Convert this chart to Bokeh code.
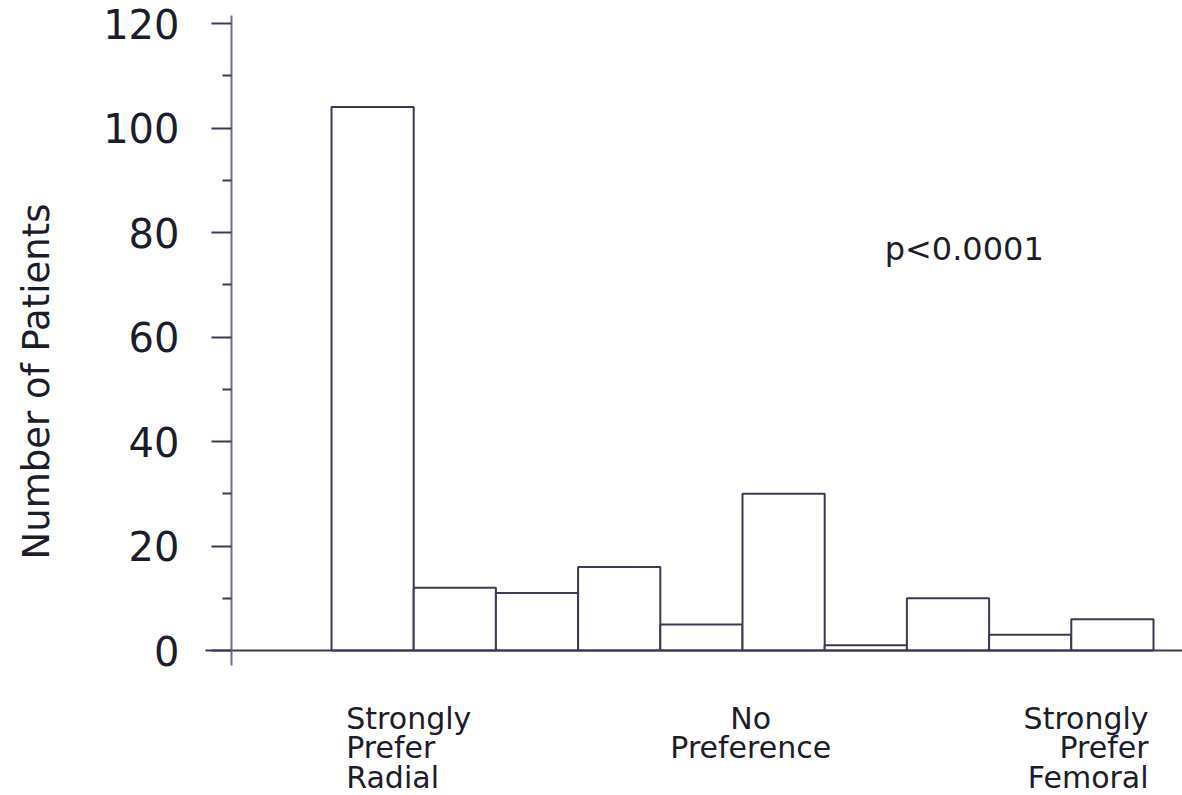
import math
from bokeh.plotting import figure
from bokeh.models import FixedTicker, Label, Range1d
from bokeh.embed import file_html
from bokeh.resources import INLINE

# ---- data ----
scale_points = [1, 2, 3, 4, 5, 6, 7, 8, 9, 10]
counts = [104, 12, 11, 16, 5, 30, 1, 10, 3, 6]
y_major_ticks = [0, 20, 40, 60, 80, 100, 120]
y_minor_ticks = [10, 30, 50, 70, 90, 110]
scale_labels = ["Strongly\nPrefer\nRadial", "No\nPreference", "Strongly\nPrefer\nFemoral"]
y_title = "Number of Patients"
p_value_text = "p<0.0001"

# ---- layout / style ----
X_RANGE = (-3.5268, 10.8528)
Y_RANGE = (-27.751, 124.402)
YAXIS_AT = -0.7165
YAXIS_BOUNDS = (-2.9, 121.5)
XAXIS_BOUNDS = (-1.0328, 10.8528)
label_x = [0.68, 5.6, 10.44]
label_align = ["left", "center", "right"]
label_top_y = -13.0
label_step = 5.65
INK = "#1c1c2a"
LINE = "#3a3a58"
AXIS = "#6e6e92"

p = figure(width=1182, height=795, output_backend="svg", toolbar_location=None,
           x_range=Range1d(*X_RANGE), y_range=Range1d(*Y_RANGE),
           min_border_left=0, min_border_right=0, min_border_top=0, min_border_bottom=0)
p.outline_line_color = None
p.grid.visible = False
p.background_fill_color = "white"

# x axis: plain baseline at y = 0
xa = p.xaxis[0]
xa.fixed_location = 0
xa.bounds = XAXIS_BOUNDS
xa.ticker = FixedTicker(ticks=[])
xa.major_tick_out = 0
xa.major_tick_in = 0
xa.minor_tick_out = 0
xa.minor_tick_in = 0
xa.major_label_text_font_size = "0px"
xa.axis_line_color = LINE
xa.axis_line_width = 2

# y axis
ya = p.yaxis[0]
ya.fixed_location = YAXIS_AT
ya.bounds = YAXIS_BOUNDS
ya.ticker = FixedTicker(ticks=y_major_ticks, minor_ticks=y_minor_ticks)
ya.axis_line_color = AXIS
ya.axis_line_width = 2
ya.major_tick_line_color = LINE
ya.major_tick_line_width = 2
ya.major_tick_out = 20
ya.major_tick_in = 0
ya.minor_tick_line_color = LINE
ya.minor_tick_line_width = 2
ya.minor_tick_out = 9
ya.minor_tick_in = 0
ya.major_label_text_font = "DejaVu Sans"
ya.major_label_text_font_size = "40px"
ya.major_label_text_color = INK
ya.major_label_standoff = 32

# bars
p.quad(left=[x - 0.5 for x in scale_points], right=[x + 0.5 for x in scale_points],
       bottom=0, top=counts, fill_color="white", line_color=LINE, line_width=2)

# y-axis title
p.add_layout(Label(x=-3.083, y=51.5, text=y_title, angle=math.pi / 2,
                   text_align="center", text_baseline="middle",
                   text_font="DejaVu Sans", text_font_size="37px", text_color=INK))

# category labels below the axis
for txt, lx, al in zip(scale_labels, label_x, label_align):
    for i, line in enumerate(txt.split("\n")):
        p.add_layout(Label(x=lx, y=label_top_y - i * label_step, text=line,
                           text_align=al, text_baseline="middle",
                           text_font="DejaVu Sans", text_font_size="30px", text_color=INK))

p.add_layout(Label(x=7.23, y=76.9, text=p_value_text, text_align="left",
                   text_baseline="middle", text_font="DejaVu Sans",
                   text_font_size="32px", text_color=INK))

open("out.html", "w").write(file_html(p, INLINE))
